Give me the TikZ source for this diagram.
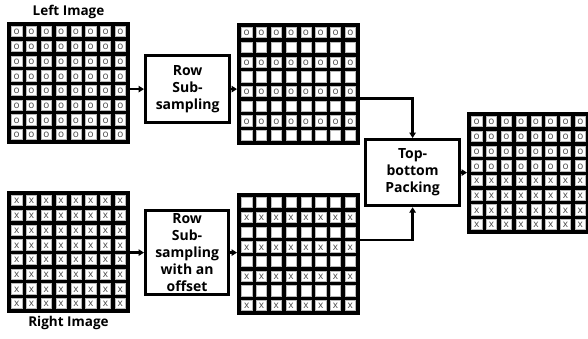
\documentclass[tikz,border=0pt]{standalone}
\usepackage{fontspec}
\setmainfont{Open Sans}
\usetikzlibrary{arrows.meta,calc}

\tikzset{
 gridbg/.style={fill=black, draw=none, minimum width=123pt, minimum height=122pt, inner sep=0pt, outer sep=0pt, anchor=north west},
 cellw/.style={fill=white, draw=gray!55, line width=0.4pt},
 glyph/.style={text=black!72, font=\fontsize{10}{10}\selectfont, inner sep=0pt},
 proc/.style={draw=black, line width=3.2pt, fill=white, align=center, font=\fontsize{14}{17}\selectfont\bfseries, inner sep=0pt, anchor=north west},
 conn/.style={line width=2.4pt, -{Triangle[length=5.5pt,width=6.5pt]}},
 title/.style={font=\fontsize{13.5}{15}\selectfont\bfseries}
}

\newcommand\drawcells[2]{%
 \foreach \g [count=\r from 0] in {#2}{%
  \foreach \c in {0,...,7}{%
   \draw[cellw] ($(#1.north west)+(4.5+\c*14.8125,4.5+\r*14.6875)$) rectangle ++(10.3125,10.1875);
   \if n\g\else
    \node[glyph] at ($(#1.north west)+(4.5+\c*14.8125+5.16,4.5+\r*14.6875+5.8)$) {\g};
   \fi
  }%
 }%
}

\begin{document}
\begin{tikzpicture}[x=1pt,y=-1pt]
\useasboundingbox (0,0) rectangle (588,338);
\fill[white] (0,0) rectangle (588,338);

% grids
\node[gridbg] (L) at (7,22) {};
\drawcells{L}{o,o,o,o,o,o,o,o}
\node[gridbg] (R) at (7,191) {};
\drawcells{R}{x,x,x,x,x,x,x,x}
\node[gridbg] (MT) at (237,23) {};
\drawcells{MT}{o,n,o,n,o,n,o,n}
\node[gridbg] (MB) at (237,193) {};
\drawcells{MB}{n,x,n,x,n,x,n,x}
\node[gridbg] (O) at (467,112) {};
\drawcells{O}{o,o,o,o,x,x,x,x}

% titles
\node[title] (LT) at (68.5,12) {Left Image};
\node[title] (RT) at (68.5,323) {Right Image};

% process boxes
\node[proc, minimum width=84pt, minimum height=67pt] (RS) at (144,54) {Row\\Sub-\\sampling};
\node[proc, minimum width=83pt, minimum height=84pt] (RSO) at (144,209) {Row\\Sub-\\sampling\\with an\\offset};
\node[proc, minimum width=94pt, minimum height=66pt] (TBP) at (364,138) {Top-\\bottom\\Packing};

% connectors
\draw[conn] (L.east |- RS.west) -- (RS.west);
\draw[conn] (RS.east) -- (MT.west |- RS.east);
\draw[conn] (R.east |- RSO.west) -- (RSO.west);
\draw[conn] (RSO.east) -- (MB.west |- RSO.east);
\draw[conn] ([yshift=-14.5pt]MT.east) -| (TBP.north);
\draw[conn] ([yshift=14pt]MB.east) -| (TBP.south);
\draw[conn] (TBP.east) -- (O.west |- TBP.east);
\end{tikzpicture}
\end{document}
